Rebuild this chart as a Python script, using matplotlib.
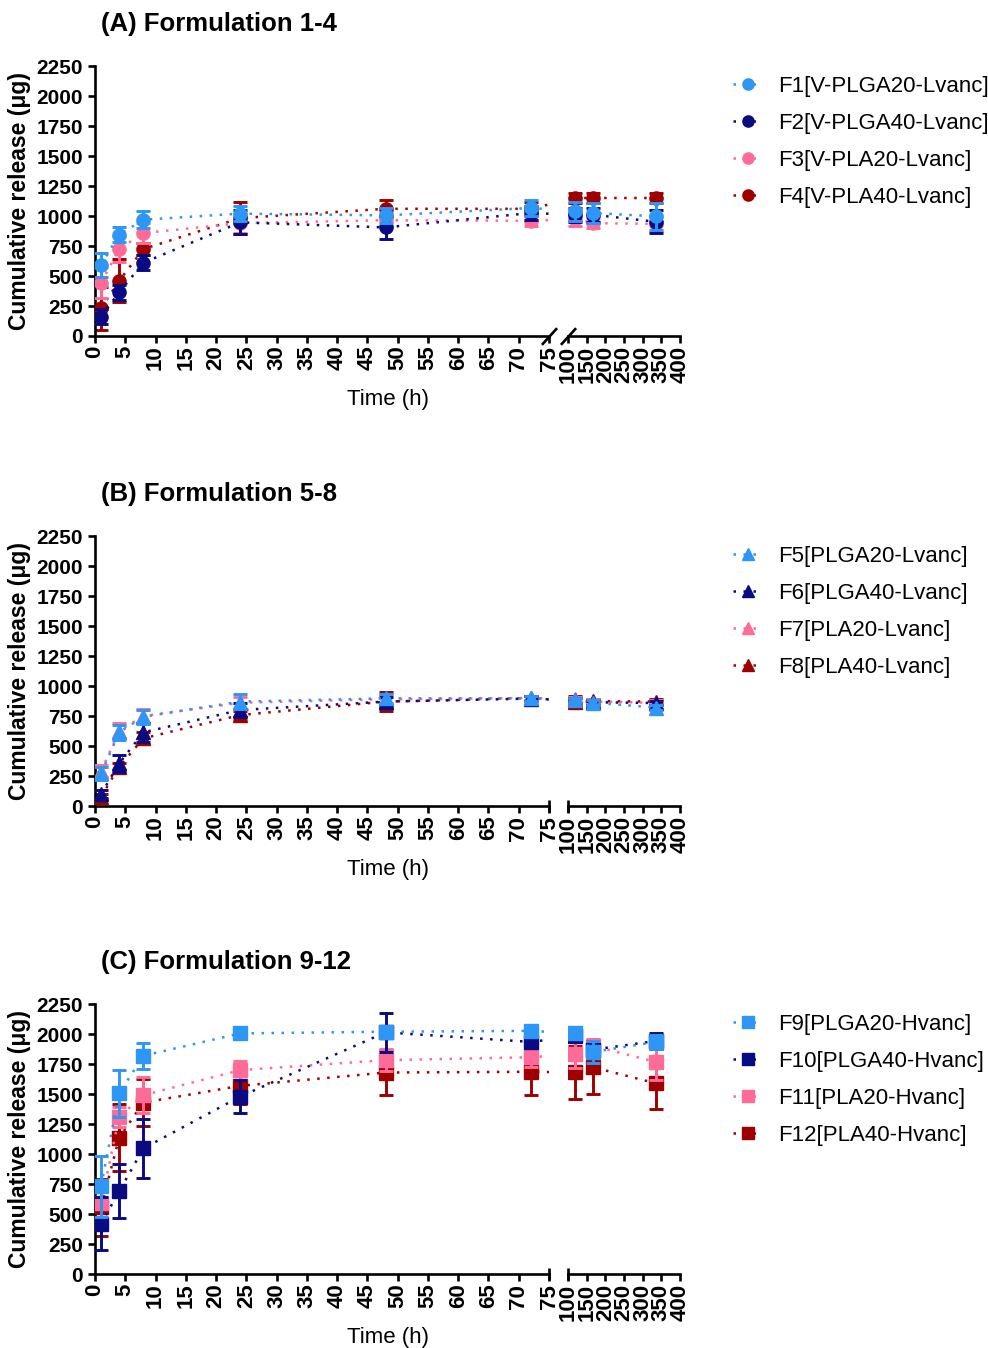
import numpy as np
import matplotlib
matplotlib.use("Agg")
import matplotlib.pyplot as plt

plt.rcParams["font.family"] = ["Liberation Sans", "DejaVu Sans"]

# sampling times (h)
times = [1, 4, 8, 24, 48, 72, 120, 168, 336]

# (A) formulations 1-4, mean and error (ug)
f1_mean = [593, 844, 969, 1020, 1005, 1067, 1039, 1025, 997]
f1_err = [100, 62, 70, 60, 60, 70, 80, 80, 110]
f2_mean = [162, 364, 611, 947, 905, 1025, 1010, 1010, 952]
f2_err = [60, 60, 60, 100, 95, 60, 60, 60, 95]
f3_mean = [444, 725, 858, 940, 965, 960, 975, 940, 935]
f3_err = [130, 110, 80, 80, 60, 40, 60, 40, 60]
f4_mean = [230, 461, 725, 983, 1060, 1060, 1150, 1150, 1150]
f4_err = [180, 178, 50, 130, 70, 60, 40, 40, 40]

# (B) formulations 5-8
f5_mean = [272, 614, 744, 870, 897, 897, 883, 861, 820]
f5_err = [55, 60, 60, 60, 40, 20, 20, 20, 20]
f6_mean = [100, 355, 614, 800, 870, 895, 880, 865, 858]
f6_err = [30, 70, 80, 60, 40, 20, 20, 20, 20]
f7_mean = [290, 625, 750, 860, 890, 900, 890, 870, 860]
f7_err = [50, 65, 60, 50, 40, 20, 20, 20, 20]
f8_mean = [78, 328, 564, 758, 870, 900, 870, 875, 870]
f8_err = [20, 30, 50, 30, 80, 20, 50, 20, 20]

# (C) formulations 9-12
f9_mean = [732, 1507, 1819, 2005, 2019, 2026, 2006, 1851, 1934]
f9_err = [255, 195, 110, 20, 40, 30, 30, 90, 60]
f10_mean = [418, 690, 1047, 1479, 2014, 1934, 1980, 1870, 1942]
f10_err = [220, 225, 245, 135, 160, 30, 30, 40, 70]
f11_mean = [593, 1309, 1490, 1699, 1782, 1806, 1833, 1900, 1767]
f11_err = [50, 80, 150, 80, 90, 80, 120, 60, 150]
f12_mean = [557, 1136, 1429, 1568, 1679, 1685, 1680, 1722, 1589]
f12_err = [237, 280, 195, 150, 190, 190, 220, 220, 210]

labels_a = ["F1[V-PLGA20-Lvanc]", "F2[V-PLGA40-Lvanc]",
            "F3[V-PLA20-Lvanc]", "F4[V-PLA40-Lvanc]"]
labels_b = ["F5[PLGA20-Lvanc]", "F6[PLGA40-Lvanc]",
            "F7[PLA20-Lvanc]", "F8[PLA40-Lvanc]"]
labels_c = ["F9[PLGA20-Hvanc]", "F10[PLGA40-Hvanc]",
            "F11[PLA20-Hvanc]", "F12[PLA40-Hvanc]"]

colors = ["#2E96F5", "#0A0A82", "#FF6B98", "#9E0000"]

W, H = 988, 1348
NARROW = ["Liberation Sans Narrow", "Liberation Sans", "DejaVu Sans"]

# broken time axis: 0-75 linear, short gap, then 100-400 compressed
GAP = 3.14
K = 0.0617


def fwd(t):
    t = np.asarray(t, dtype=float)
    return np.where(t <= 75, t,
                    np.where(t <= 100, 75 + (t - 75) * GAP / 25,
                             75 + GAP + (t - 100) * K))


def inv(u):
    u = np.asarray(u, dtype=float)
    return np.where(u <= 75, u,
                    np.where(u <= 75 + GAP, 75 + (u - 75) * 25 / GAP,
                             100 + (u - 75 - GAP) / K))


def draw_panel(fig, y0, title, labels, means, errs, marker, ms, slash):
    bottom = 1 - y0 / H
    ax1 = fig.add_axes([95 / W, bottom, 454 / W, 270 / H])
    ax2 = fig.add_axes([568 / W, bottom, 112 / W, 270 / H], sharey=ax1)

    for ax in (ax1, ax2):
        ax.set_xscale("function", functions=(fwd, inv))
        for i in reversed(range(4)):
            z = 2 + (3 - i) * 2
            ax.errorbar(times, means[i], yerr=errs[i], fmt="none",
                        ecolor=colors[i], elinewidth=2.1, capsize=5,
                        capthick=2.1, zorder=z)
            ax.plot(times, means[i], ls=(0, (1, 3)), lw=1.8, marker=marker,
                    ms=ms, color=colors[i], label=labels[i], zorder=z + 1)
        for s in ("top", "right"):
            ax.spines[s].set_visible(False)
        for s in ("left", "bottom"):
            ax.spines[s].set_linewidth(1.9)
        ax.tick_params(axis="both", direction="out", length=5, width=1.9)

    ax1.set_xlim(0, 75)
    ax2.set_xlim(100, 400)
    ax1.set_ylim(0, 2250)

    xt1 = list(range(0, 80, 5))
    xt2 = list(range(100, 450, 50))
    ax1.set_xticks(xt1)
    ax1.set_xticklabels([str(v) for v in xt1], rotation=90,
                        fontweight="bold", fontsize=16)
    ax2.set_xticks(xt2)
    ax2.set_xticklabels([str(v) for v in xt2], rotation=90,
                        fontweight="bold", fontsize=16)
    yt = list(range(0, 2500, 250))
    ax1.set_yticks(yt)
    ax1.set_yticklabels([str(v) for v in yt], fontweight="bold",
                        fontsize=15, family=NARROW)
    ax1.tick_params(axis="x", pad=2)
    ax2.tick_params(axis="x", pad=2)

    ax2.spines["left"].set_visible(False)
    ax2.tick_params(axis="y", left=False, labelleft=False)

    ax1.set_ylabel("Cumulative release (μg)", fontsize=16.5,
                   fontweight="bold", labelpad=4)

    # break marks
    if slash:
        mk = [(-1, -1.1), (1, 1.1)]
        bms = 12
    else:
        mk = [(0, -1), (0, 1)]
        bms = 9
    ax1.plot([1], [0], transform=ax1.transAxes, marker=mk, ms=bms, ls="none",
             mec="black", mew=1.9, clip_on=False)
    ax2.plot([0], [0], transform=ax2.transAxes, marker=mk, ms=bms, ls="none",
             mec="black", mew=1.9, clip_on=False)

    fig.text(101 / W, 1 - (y0 - 312) / H, title, fontsize=18.5,
             fontweight="bold", va="center", ha="left")
    fig.text(388 / W, 1 - (y0 + 64) / H, "Time (h)", fontsize=16,
             va="center", ha="center", family=NARROW)

    handles, labs = ax1.get_legend_handles_labels()
    order = sorted(range(4), key=lambda j: labels.index(labs[j]))
    ax1.legend([handles[j] for j in order], [labs[j] for j in order],
               loc="upper left", bbox_to_anchor=(733 / W, 1 - (y0 - 260) / H),
               bbox_transform=fig.transFigure, frameon=False, fontsize=16,
               handlelength=1.35, handletextpad=0.7, labelspacing=0.72,
               borderpad=0, borderaxespad=0, markerscale=0.85)


fig = plt.figure(figsize=(W / 100, H / 100), dpi=100)

draw_panel(fig, 336, "(A) Formulation 1-4", labels_a,
           [f1_mean, f2_mean, f3_mean, f4_mean],
           [f1_err, f2_err, f3_err, f4_err], "o", 9.5, True)
draw_panel(fig, 806, "(B) Formulation 5-8", labels_b,
           [f5_mean, f6_mean, f7_mean, f8_mean],
           [f5_err, f6_err, f7_err, f8_err], "^", 10.5, False)
draw_panel(fig, 1274, "(C) Formulation 9-12", labels_c,
           [f9_mean, f10_mean, f11_mean, f12_mean],
           [f9_err, f10_err, f11_err, f12_err], "s", 9.5, False)

fig.savefig("out.png", dpi=100)
